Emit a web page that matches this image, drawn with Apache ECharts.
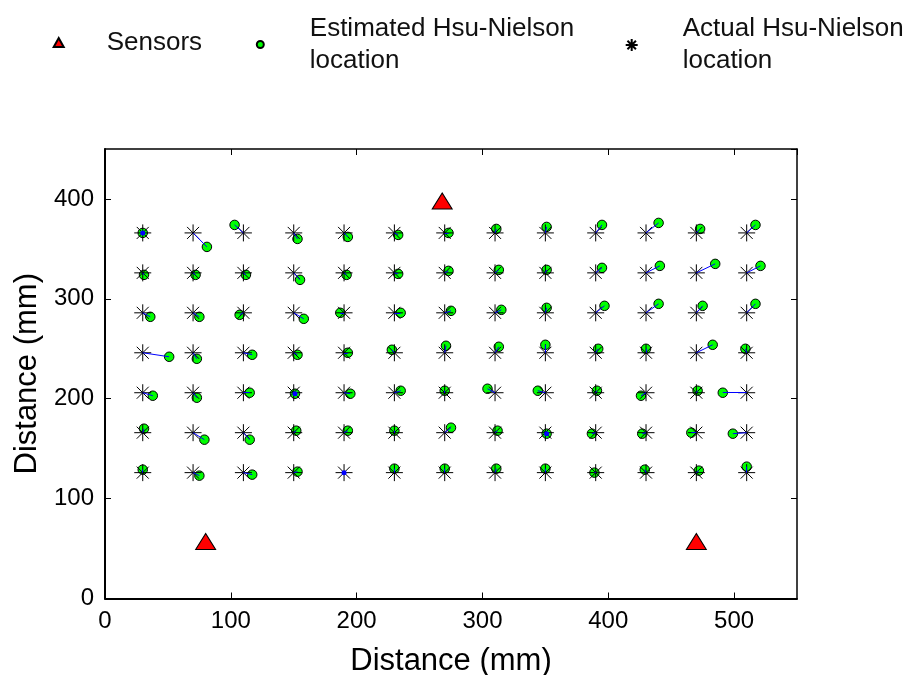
<!DOCTYPE html>
<html>
<head>
<meta charset="utf-8">
<script src="https://cdn.jsdelivr.net/npm/echarts@6/dist/echarts.min.js"></script>
<style>
html,body{margin:0;padding:0;background:#fff;}
#chart{width:906px;height:675px;}
</style>
</head>
<body>
<div id="chart"></div>
<script>
// Actual Hsu-Nielson grid (mm)
const colX = [30, 70, 110, 150, 190, 230, 270, 310, 350, 390, 430, 470, 510];
const rowY = [366, 326, 286, 246, 206, 166, 126];

// Estimated locations, one row per grid row (top to bottom), one entry per column
const estX = [
  [30, 81, 103, 153, 193, 233, 273, 311, 351, 395, 440, 473, 517],
  [31, 72, 112, 155, 192, 233, 273, 313, 351, 395, 441, 485, 521],
  [36, 75, 107, 158, 187, 235, 275, 315, 351, 397, 440, 475, 517],
  [51, 73, 117, 153, 193, 228, 271, 313, 350, 392, 430, 483, 509],
  [38, 73, 115, 151, 195, 235, 270, 304, 344, 391, 426, 471, 491],
  [31, 79, 115, 152, 193, 230, 275, 312, 351, 387, 427, 466, 499],
  [30, 75, 117, 153, null, 230, 270, 311, 350, 389, 429, 472, 510]
];
const estY = [
  [366, 352, 374, 360, 362, 364, 366, 370, 372, 374, 376, 370, 374],
  [324, 324, 324, 319, 324, 325, 328, 329, 329, 331, 333, 335, 333],
  [282, 282, 284, 280, 286, 286, 288, 289, 291, 293, 295, 293, 295],
  [242, 240, 244, 244, 246, 249, 253, 252, 254, 250, 250, 254, 250],
  [203, 201, 206, 205, 205, 208, 208, 210, 208, 208, 203, 208, 206],
  [170, 159, 159, 168, 168, 168, 171, 168, 165, 165, 165, 166, 165],
  [129, 123, 124, 127, null, 130, 130, 130, 130, 126, 129, 128, 132]
];

// Points where estimate coincides with actual (blue dots)
const exactX = [30, 151, 351, 190];
const exactY = [366, 205, 165, 126];

// Sensors
const sensorX = [80, 268, 470];
const sensorY = [57, 398, 57];

// Axis ticks
const xTicks = [0, 100, 200, 300, 400, 500];
const yTicks = [0, 100, 200, 300, 400];

const FONT = "'Liberation Sans', Arial, sans-serif";

const actualPts = [];
const estPts = [];
const linkData = [];
rowY.forEach((y, r) => {
  colX.forEach((x, c) => {
    actualPts.push([x, y]);
    const ex = estX[r][c], ey = estY[r][c];
    if (ex != null && ey != null) {
      estPts.push([ex, ey]);
      linkData.push({ coords: [[x, y], [ex, ey]] });
    }
  });
});
const exactPts = exactX.map((x, i) => [x, exactY[i]]);
const sensorPts = sensorX.map((x, i) => [x, sensorY[i]]);

const STAR = 'path://M0,8.5L17,8.5M8.5,0L8.5,17M2.5,2.5L14.5,14.5M14.5,2.5L2.5,14.5';

function legendBox(name, left, top, w, h, gap) {
  return {
    data: [name],
    left: left, top: top,
    itemWidth: w, itemHeight: h,
    selectedMode: false,
    orient: 'horizontal',
    padding: 0,
    formatter: function (n) {
      return n.split('\n').map(function (s) { return '{g|}{t|' + s + '}'; }).join('\n');
    },
    textStyle: {
      rich: {
        g: { width: gap },
        t: { fontFamily: FONT, fontSize: 26, color: '#111', lineHeight: 32 }
      }
    }
  };
}

const chart = echarts.init(document.getElementById('chart'), null, { renderer: 'canvas' });
chart.setOption({
  animation: false,
  backgroundColor: '#fff',
  legend: [
    legendBox('Sensors', 52.7, 29.5, 10, 9, 38),
    legendBox('Estimated Hsu-Nielson\nlocation', 255.8, 15.5, 7, 7, 41),
    legendBox('Actual Hsu-Nielson\nlocation', 624.7, 16, 12, 12, 40)
  ],
  grid: { left: 105, right: 109, top: 149, bottom: 76.5, containLabel: false, outerBoundsMode: 'none' },
  xAxis: [{
    type: 'value', min: 0, max: 550, interval: 100,
    name: 'Distance (mm)', nameLocation: 'middle', nameGap: 47,
    nameTextStyle: { fontFamily: FONT, fontSize: 31, color: '#000' },
    axisLine: { show: true, onZero: false, lineStyle: { color: '#000', width: 2 } },
    axisTick: { show: true, inside: true, length: 6, lineStyle: { color: '#000', width: 1 } },
    axisLabel: { show: true, showMaxLabel: false, margin: 11, fontFamily: FONT, fontSize: 24, color: '#000',
      formatter: function (v) { return xTicks.indexOf(v) >= 0 ? String(v) : ''; } },
    splitLine: { show: false }
  }, {
    type: 'value', min: 0, max: 550, interval: 100, position: 'top',
    axisLine: { show: true, onZero: false, lineStyle: { color: '#000', width: 1.5 } },
    axisTick: { show: true, inside: true, length: 6, lineStyle: { color: '#000', width: 1 } },
    axisLabel: { show: false }, splitLine: { show: false }
  }],
  yAxis: [{
    type: 'value', min: 0, max: 450, interval: 100,
    name: 'Distance (mm)', nameLocation: 'middle', nameGap: 56,
    nameTextStyle: { fontFamily: FONT, fontSize: 31, color: '#000' },
    axisLine: { show: true, onZero: false, lineStyle: { color: '#000', width: 2 } },
    axisTick: { show: true, inside: true, length: 6, lineStyle: { color: '#000', width: 1 } },
    axisLabel: { show: true, showMaxLabel: false, margin: 11, fontFamily: FONT, fontSize: 24, color: '#000',
      formatter: function (v) { return yTicks.indexOf(v) >= 0 ? String(v) : ''; } },
    splitLine: { show: false }
  }, {
    type: 'value', min: 0, max: 450, interval: 100, position: 'right',
    axisLine: { show: true, onZero: false, lineStyle: { color: '#000', width: 1.5 } },
    axisTick: { show: true, inside: true, length: 6, lineStyle: { color: '#000', width: 1 } },
    axisLabel: { show: false }, splitLine: { show: false }
  }],
  series: [
    {
      name: 'Sensors', type: 'scatter', data: sensorPts, z: 6,
      symbol: 'triangle', symbolSize: [20, 16],
      itemStyle: { color: '#ff0000', borderColor: '#000', borderWidth: 1, opacity: 1 },
      emphasis: { disabled: true }
    },
    {
      name: 'Estimated Hsu-Nielson\nlocation', type: 'scatter', data: estPts, z: 2,
      symbol: 'circle', symbolSize: 9.5,
      itemStyle: { color: '#00ff00', borderColor: '#000', borderWidth: 1, opacity: 1 },
      emphasis: { disabled: true }
    },
    {
      name: 'Actual Hsu-Nielson\nlocation', type: 'scatter', data: actualPts, z: 3,
      symbol: STAR, symbolSize: 17,
      itemStyle: { color: 'rgba(0,0,0,0)', borderColor: '#000', borderWidth: 1, opacity: 1 },
      emphasis: { disabled: true }
    },
    {
      name: 'links', type: 'lines', coordinateSystem: 'cartesian2d', data: linkData, z: 4,
      lineStyle: { color: '#0000ff', width: 1, opacity: 1 },
      silent: true
    },
    {
      name: 'exact', type: 'scatter', data: exactPts, z: 5,
      symbol: 'circle', symbolSize: 5,
      itemStyle: { color: '#0000ff', opacity: 1 },
      emphasis: { disabled: true }
    }
  ]
});
</script>
</body>
</html>
